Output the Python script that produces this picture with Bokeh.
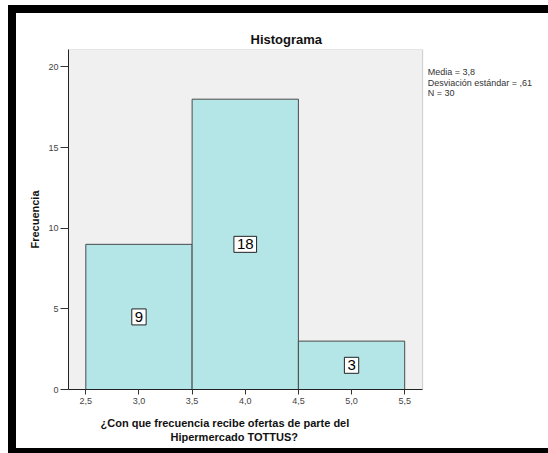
from bokeh.plotting import figure
from bokeh.models import Range1d, FixedTicker, Label, Div, Title, BoxAnnotation
from bokeh.layouts import column, row
from bokeh.embed import file_html
from bokeh.resources import INLINE

# ---- data ----
bin_edges = [2.5, 3.5, 4.5, 5.5]
counts = [9, 18, 3]
x_ticks = [2.5, 3.0, 3.5, 4.0, 4.5, 5.0, 5.5]
x_tick_labels = ["2,5", "3,0", "3,5", "4,0", "4,5", "5,0", "5,5"]
y_ticks = [0, 5, 10, 15, 20]
y_tick_labels = ["0", "5", "10", "15", "20"]
title_text = "Histograma"
x_label_lines = ["¿Con que frecuencia recibe ofertas de parte del", "Hipermercado TOTTUS?"]
y_label = "Frecuencia"
stats_lines = ["Media = 3,8", "Desviación estándar = ,61", "N = 30"]

FONT = "Liberation Sans"

# plot area limits (layout)
X_LO, X_HI = 2.337, 5.669
Y_LO, Y_HI = 0, 21.08
X_CANVAS_HI = 6.853   # frame extended to the right to hold the stats text

p = figure(width=532, height=435, output_backend="svg", toolbar_location=None,
           x_range=Range1d(X_LO, X_CANVAS_HI), y_range=Range1d(Y_LO, Y_HI),
           min_border_left=52, min_border_right=0, min_border_top=36,
           min_border_bottom=59)

p.background_fill_color = "white"
p.border_fill_color = "white"
p.outline_line_color = None
p.xgrid.visible = False
p.ygrid.visible = False

# grey plot area
p.add_layout(BoxAnnotation(left=X_LO, right=X_HI, bottom=Y_LO, top=Y_HI,
                           fill_color="#f0f0f0", fill_alpha=1.0,
                           line_color="#6e6e6e", line_width=1, level="underlay"))

p.quad(left=bin_edges[:-1], right=bin_edges[1:], top=counts, bottom=0,
       fill_color="#b4e6e8", line_color="#4a4a4a", line_width=1)

for i, c in enumerate(counts):
    cx = (bin_edges[i] + bin_edges[i + 1]) / 2
    p.add_layout(Label(x=cx, y=c / 2, text=str(c), text_align="center",
                       text_baseline="middle", text_font=FONT,
                       text_font_size="15px", text_color="black",
                       background_fill_color="white", border_line_color="#222222",
                       border_line_width=1, padding=3))

# axes
p.xaxis.ticker = FixedTicker(ticks=x_ticks)
p.xaxis.major_label_overrides = dict(zip(x_ticks, x_tick_labels))
p.xaxis.bounds = (X_LO, X_HI)
p.yaxis.ticker = FixedTicker(ticks=y_ticks)
p.yaxis.major_label_overrides = dict(zip(y_ticks, y_tick_labels))
for ax in (p.xaxis, p.yaxis):
    ax.minor_tick_line_color = None
    ax.major_tick_in = 0
    ax.axis_line_color = "#222222"
    ax.major_tick_line_color = "#333333"
    ax.major_label_text_font = FONT
    ax.major_label_text_font_size = "9px"
    ax.major_label_text_color = "#444444"
    ax.axis_label_text_font = FONT
    ax.axis_label_text_font_style = "bold"
    ax.axis_label_text_font_size = "11px"
    ax.axis_label_text_color = "#111111"
p.yaxis.major_tick_out = 8
p.yaxis.major_label_standoff = 2
p.xaxis.major_tick_out = 5
p.xaxis.major_label_standoff = 3
p.yaxis.axis_label = y_label
p.yaxis.axis_label_standoff = 4

# spacer between tick labels and the x-axis label
p.add_layout(Title(text=" ", text_font_size="1px", standoff=5), "below")
# x-axis label as two centred lines below the axis
for line, off in zip(x_label_lines, [32, 102]):
    p.add_layout(Title(text=line, align="left", offset=off, text_font=FONT,
                       text_font_size="11px", text_font_style="bold",
                       text_color="#111111", standoff=0,
                       text_line_height=0.8), "below")

# title
p.title.text = title_text
p.title.align = "left"
p.title.offset = 182
p.title.text_font = FONT
p.title.text_font_size = "13px"
p.title.text_font_style = "bold"
p.title.text_color = "#111111"
p.title.standoff = 6

# stats
p.add_layout(Label(x=5.717, y=19.98, text="\n".join(stats_lines), text_align="left",
                   text_baseline="top", text_font=FONT, text_font_size="9px",
                   text_color="#333333", text_line_height=1.05))

bar_style = {"background-color": "black"}
top_bar = Div(width=540, height=8, margin=0, styles=bar_style)
left_bar = Div(width=8, height=435, margin=0, styles=bar_style)
bottom_bar = Div(width=540, height=5, margin=0, styles=bar_style)
layout = column(top_bar, row(left_bar, p, spacing=0), bottom_bar, spacing=0,
                margin=(5, 0, 0, 8))

open("out.html", "w").write(file_html(layout, INLINE))
